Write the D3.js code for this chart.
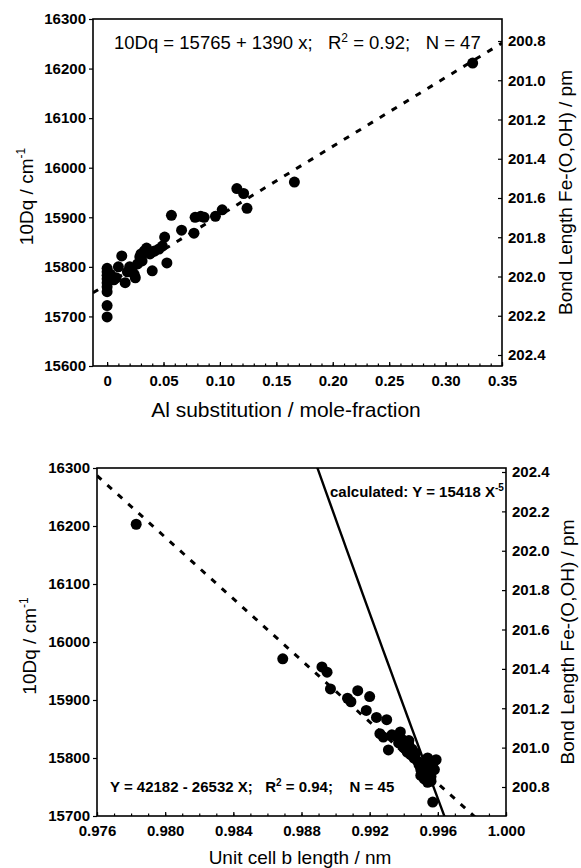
<!DOCTYPE html>
<meta charset="utf-8">
<style>
body { margin: 0; background: #fff; }
text { font-family: "Liberation Sans", Arial, sans-serif; fill: #000; }
</style>
<body>
<script src="https://d3js.org/d3.v7.min.js"></script>
<script>

// top panel: 10Dq vs Al substitution (N = 47)
var alFrac = [0, 0, 0, 0, 0, 0, 0, 0, 0,
  0.003, 0.006, 0.008, 0.010, 0.013, 0.016, 0.018, 0.020, 0.022, 0.024,
  0.025, 0.027, 0.029, 0.030, 0.031, 0.033, 0.035, 0.036, 0.038, 0.040,
  0.042, 0.046, 0.049, 0.051, 0.053, 0.057, 0.066, 0.077, 0.078, 0.083,
  0.086, 0.096, 0.102, 0.115, 0.121, 0.124, 0.166, 0.324];
var dqTop = [15797, 15790, 15783, 15776, 15768, 15760, 15750, 15722, 15699,
  15785, 15774, 15778, 15800, 15822, 15768, 15790, 15800, 15796, 15785,
  15778, 15806, 15820, 15826, 15812, 15832, 15838, 15830, 15826, 15792,
  15832, 15836, 15842, 15860, 15808, 15904, 15874, 15868, 15900, 15902,
  15900, 15902, 15915, 15958, 15948, 15918, 15971, 16211];

// bottom panel: 10Dq vs unit cell b length (N = 45)
var bLen = [0.9783, 0.9869, 0.9892, 0.9895, 0.9897, 0.9907, 0.9909, 0.9913, 0.9918,
  0.9920, 0.9924, 0.9930, 0.9926, 0.9928, 0.9931, 0.9933, 0.9935, 0.9937, 0.9939,
  0.9940, 0.9942, 0.9943, 0.9944, 0.9945, 0.9946, 0.9947, 0.9948, 0.9949, 0.9950,
  0.9951, 0.9952, 0.9952, 0.9953, 0.9954, 0.9955, 0.9956, 0.9957, 0.9958, 0.9959,
  0.9957, 0.9954, 0.9938, 0.9950, 0.9943, 0.9956];
var dqBottom = [16203, 15971, 15957, 15948, 15919, 15903, 15897, 15916, 15882,
  15906, 15870, 15866, 15842, 15836, 15814, 15840, 15838, 15826, 15832,
  15818, 15810, 15822, 15806, 15815, 15800, 15808, 15795, 15788, 15780,
  15792, 15772, 15764, 15785, 15758, 15776, 15768, 15790, 15780, 15797,
  15724, 15800, 15845, 15770, 15830, 15760];

// fits printed on the chart: [intercept, slope] and calculated [a, exponent]
var fitTop = [15765, 1390];
var fitBottom = [42182, -26532];
var calcCurve = [15418, -5];

var dqTicks = [15600, 15700, 15800, 15900, 16000, 16100, 16200, 16300];
var dqTicksBottom = [15700, 15800, 15900, 16000, 16100, 16200, 16300];
var bondTicks = [200.8, 201.0, 201.2, 201.4, 201.6, 201.8, 202.0, 202.2, 202.4];
var alTicks = [0, 0.05, 0.10, 0.15, 0.20, 0.25, 0.30, 0.35];
var alTickLabels = ['0', '0.05', '0.10', '0.15', '0.20', '0.25', '0.30', '0.35'];
var bTicks = [0.976, 0.980, 0.984, 0.988, 0.992, 0.996, 1.000];

var svg = d3.select('body').append('svg')
  .attr('width', 581)
  .attr('height', 868);

function panel(o) {
  var x = d3.scaleLinear().domain(o.xDomain).range([o.left, o.right]);
  var y = d3.scaleLinear().domain(o.yDomain).range([o.bottom, o.top]);
  var y2 = d3.scaleLinear().domain([200.8, 202.4]).range(o.y2Range);

  svg.append('clipPath').attr('id', 'clip' + o.name)
    .append('rect')
    .attr('x', o.left).attr('y', o.top)
    .attr('width', o.right - o.left).attr('height', o.bottom - o.top);

  var g = svg.append('g');

  // frame
  g.append('rect')
    .attr('x', o.left).attr('y', o.top)
    .attr('width', o.right - o.left).attr('height', o.bottom - o.top)
    .attr('fill', 'none').attr('stroke', '#000').attr('stroke-width', 1.6);

  // left axis
  var ax = g.append('g').attr('transform', 'translate(' + o.left + ',0)')
    .call(d3.axisLeft(y).tickValues(o.yTicks).tickSize(4).tickPadding(3).tickFormat(d3.format('d')));
  // right axis
  var ar = g.append('g').attr('transform', 'translate(' + o.right + ',0)')
    .call(d3.axisRight(y2).tickValues(bondTicks).tickSize(-4).tickPadding(6).tickFormat(d3.format('.1f')));
  // bottom axis, minor ticks inside
  var ab = g.append('g').attr('transform', 'translate(0,' + o.bottom + ')')
    .call(d3.axisBottom(x).tickValues(o.xTicks).tickSize(-4).tickPadding(9).tickFormat(o.xFormat));
  g.append('g').attr('transform', 'translate(0,' + o.bottom + ')')
    .call(d3.axisBottom(x).tickValues(o.xMinor).tickSize(-2.5).tickFormat(''))
    .selectAll('.domain').remove();

  [ax, ar, ab].forEach(function(a) {
    a.select('.domain').remove();
    a.selectAll('text').attr('font-size', 15).attr('font-weight', 'bold')
      .style('font-family', '"Liberation Sans", Arial, sans-serif');
  });
  g.selectAll('.tick line').attr('stroke-width', 1.2);

  var plot = g.append('g').attr('clip-path', 'url(#clip' + o.name + ')');

  // solid calculated curve
  if (o.curve) {
    var xs = d3.range(101).map(function(i) {
      return o.xDomain[0] + (o.xDomain[1] - o.xDomain[0]) * i / 100;
    });
    plot.append('path')
      .datum(xs)
      .attr('fill', 'none').attr('stroke', '#000').attr('stroke-width', 2.4)
      .attr('d', d3.line()
        .x(function(d) { return x(d); })
        .y(function(d) { return y(o.curve[0] * Math.pow(d, o.curve[1])); }));
  }

  // dashed regression line
  plot.append('path')
    .datum(o.xDomain)
    .attr('fill', 'none').attr('stroke', '#000').attr('stroke-width', 3)
    .attr('stroke-dasharray', '6,8')
    .attr('d', d3.line()
      .x(function(d) { return x(d); })
      .y(function(d) { return y(o.fit[0] + o.fit[1] * d); }));

  plot.selectAll('circle')
    .data(o.xs)
    .enter().append('circle')
    .attr('cx', function(d) { return x(d); })
    .attr('cy', function(d, i) { return y(o.ys[i]); })
    .attr('r', 5.5)
    .attr('fill', '#000');

  // left title
  var lt = svg.append('text')
    .attr('transform', 'translate(' + o.ltX + ',' + ((o.top + o.bottom) / 2 + 4) + ') rotate(-90)')
    .attr('text-anchor', 'middle').attr('font-size', 19);
  lt.append('tspan').text('10Dq / cm');
  lt.append('tspan').attr('dy', -8).attr('font-size', 12).text('-1');

  // right title
  svg.append('text')
    .attr('transform', 'translate(' + o.rtX + ',' + ((o.top + o.bottom) / 2) + ') rotate(-90)')
    .attr('text-anchor', 'middle').attr('font-size', 19)
    .text('Bond Length Fe-(O,OH) / pm');

  // bottom title
  svg.append('text')
    .attr('x', o.btX).attr('y', o.btY)
    .attr('text-anchor', 'middle').attr('font-size', o.btSize)
    .text(o.xTitle);

  return {x: x, y: y};
}

panel({
  name: 'top', left: 93, right: 502, top: 19, bottom: 366,
  xDomain: [-0.0125, 0.35], yDomain: [15600, 16300], y2Range: [41, 355],
  xTicks: alTicks, xMinor: d3.range(0, 36).map(function(i) { return i / 100; }),
  xFormat: function(d, i) { return alTickLabels[i]; },
  yTicks: dqTicks, xs: alFrac, ys: dqTop, fit: fitTop,
  ltX: 33, rtX: 572, btX: 286, btY: 417, btSize: 21, xTitle: 'Al substitution / mole-fraction'
});

panel({
  name: 'bottom', left: 97, right: 506, top: 468, bottom: 816,
  xDomain: [0.976, 1.000], yDomain: [15700, 16300], y2Range: [787, 472],
  xTicks: bTicks, xMinor: d3.range(976, 1001).map(function(i) { return i / 1000; }),
  xFormat: d3.format('.3f'),
  yTicks: dqTicksBottom, xs: bLen, ys: dqBottom, fit: fitBottom, curve: calcCurve,
  ltX: 36, rtX: 574, btX: 300, btY: 864, btSize: 19, xTitle: 'Unit cell b length / nm'
});

// equations
var e1 = svg.append('text').attr('x', 114).attr('y', 49).attr('font-size', 18.5);
e1.append('tspan').text('10Dq = 15765 + 1390 x;\u00a0\u00a0\u00a0R');
e1.append('tspan').attr('dy', -7).attr('font-size', 12).text('2');
e1.append('tspan').attr('dy', 7).text(' = 0.92;\u00a0\u00a0\u00a0N = 47');

var e2 = svg.append('text').attr('x', 110).attr('y', 792).attr('font-size', 15).attr('font-weight', 'bold');
e2.append('tspan').text('Y = 42182 - 26532 X;\u00a0\u00a0\u00a0R');
e2.append('tspan').attr('dy', -6).attr('font-size', 10).text('2');
e2.append('tspan').attr('dy', 6).text(' = 0.94;\u00a0\u00a0\u00a0\u00a0N = 45');

var e3 = svg.append('text').attr('x', 330).attr('y', 497).attr('font-size', 15).attr('font-weight', 'bold');
e3.append('tspan').text('calculated: Y = 15418 X');
e3.append('tspan').attr('dy', -6).attr('font-size', 10).text('-5');

</script>
</body>
